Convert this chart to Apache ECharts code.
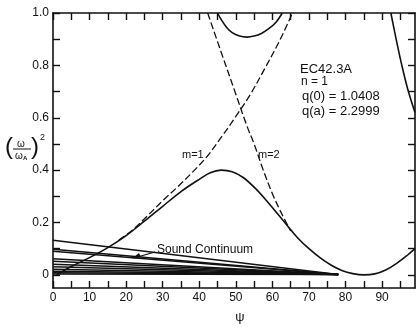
<!DOCTYPE html>
<html>
<head>
<meta charset="utf-8">
<script src="https://cdn.jsdelivr.net/npm/echarts@6/dist/echarts.min.js"></script>
<style>
  html, body { margin: 0; padding: 0; background: #fff; }
  #chart { width: 416px; height: 329px; }
</style>
</head>
<body>
<div id="chart"></div>
<script>
// axis ticks / labels
const xTickValues = [0, 5, 10, 15, 20, 25, 30, 35, 40, 45, 50, 55, 60, 65, 70, 75, 80, 85, 90, 95]
const xLabelValues = [0, 10, 20, 30, 40, 50, 60, 70, 80, 90]
const yTickValues = [0, 0.1, 0.2, 0.3, 0.4, 0.5, 0.6, 0.7, 0.8, 0.9, 1.0]
const yLabelValues = [0, 0.2, 0.4, 0.6, 0.8, 1.0]

// lower solid branch (peak near 46, touches zero near 85)
const lowerPsi = [1, 5, 10, 15, 20, 25, 30, 35, 40, 43, 46, 49, 52, 55, 58, 61, 64, 67, 70, 73, 76, 79, 82, 85, 88, 91, 94, 97, 99]
const lowerVal = [0.0, 0.032, 0.066, 0.104, 0.15, 0.205, 0.262, 0.318, 0.365, 0.39, 0.40, 0.394, 0.372, 0.335, 0.29, 0.24, 0.19, 0.14, 0.1, 0.066, 0.038, 0.017, 0.005, 0.0, 0.004, 0.019, 0.044, 0.076, 0.1]

// upper solid arc
const arcPsi = [45, 46, 47.5, 49, 51, 53, 55, 57, 59, 61, 62.7]
const arcVal = [1.0, 0.975, 0.945, 0.925, 0.912, 0.908, 0.912, 0.922, 0.94, 0.965, 1.0]

// right solid branch
const rightPsi = [92.4, 94, 95.4, 97, 99]
const rightVal = [1.0, 0.89, 0.80, 0.71, 0.62]

// m = 1 dashed
const m1Psi = [18, 22, 26, 30, 34, 38, 42, 46, 50, 54, 58, 62, 65.5]
const m1Val = [0.133, 0.174, 0.228, 0.283, 0.335, 0.39, 0.45, 0.525, 0.605, 0.69, 0.79, 0.895, 1.0]

// m = 2 dashed
const m2Psi = [42.3, 46, 50, 53, 55, 57.5, 60, 62.5, 65]
const m2Val = [1.0, 0.85, 0.69, 0.57, 0.50, 0.40, 0.31, 0.235, 0.168]

// sound continuum: straight lines from psi = 0 fanning into ~0
const continuumStart = [0.132, 0.098, 0.09, 0.062, 0.052, 0.041, 0.031, 0.022, 0.014, 0.008, 0.003]
const continuumEndPsi = 78
const continuumEndVal = 0.002

const ink = '#111'
const font = "'Liberation Sans', Arial, sans-serif"

function zip(xs, ys) {
  return xs.map((x, i) => [x, ys[i]])
}

const solid = { color: ink, width: 1.6 }
const dashed = { color: ink, width: 1.3, type: [7, 3] }

const series = []

continuumStart.forEach((v0, i) => {
  series.push({
    name: 'continuum' + i,
    type: 'line',
    data: [[0, v0], [continuumEndPsi, continuumEndVal]],
    symbol: 'none',
    lineStyle: { color: ink, width: 1.5 },
    z: 1,
  })
})

series.push(
  { name: 'lower', type: 'line', data: zip(lowerPsi, lowerVal), smooth: 0.35, symbol: 'none', lineStyle: solid, z: 3 },
  { name: 'arc', type: 'line', data: zip(arcPsi, arcVal), smooth: 0.35, symbol: 'none', lineStyle: solid, z: 3 },
  { name: 'right', type: 'line', data: zip(rightPsi, rightVal), smooth: 0.35, symbol: 'none', lineStyle: solid, z: 3 },
  { name: 'm=1', type: 'line', data: zip(m1Psi, m1Val), smooth: 0.35, symbol: 'none', lineStyle: dashed, z: 2 },
  { name: 'm=2', type: 'line', data: zip(m2Psi, m2Val), smooth: 0.35, symbol: 'none', lineStyle: dashed, z: 2 },
)

const axisLine = { onZero: false, lineStyle: { color: ink, width: 1.6 } }
const tickStyle = { inside: true, length: 7, lineStyle: { color: ink, width: 1.4 } }

const option = {
  backgroundColor: '#fff',
  animation: false,
  grid: { left: 53, right: 1, top: 13, bottom: 30.5 },
  xAxis: [
    {
      type: 'value',
      min: 0,
      max: 99,
      position: 'bottom',
      axisLine,
      axisTick: { ...tickStyle, customValues: xTickValues },
      axisLabel: {
        customValues: xLabelValues,
        color: ink,
        fontFamily: font,
        fontSize: 12,
        margin: 4,
      },
      splitLine: { show: false },
      name: 'ψ',
      nameLocation: 'middle',
      nameGap: 23,
      nameTextStyle: { color: ink, fontFamily: font, fontSize: 13, padding: [0, 0, 0, 12] },
    },
    {
      type: 'value',
      min: 0,
      max: 99,
      position: 'top',
      axisLine,
      axisTick: { ...tickStyle, customValues: xTickValues },
      axisLabel: { show: false },
      splitLine: { show: false },
    },
  ],
  yAxis: [
    {
      type: 'value',
      min: -0.05,
      max: 1.0,
      position: 'left',
      axisLine,
      axisTick: { ...tickStyle, customValues: yTickValues },
      axisLabel: {
        customValues: yLabelValues,
        formatter: (v) => (v === 0 ? '0' : v.toFixed(1)),
        color: ink,
        fontFamily: font,
        fontSize: 12,
        margin: 4,
      },
      splitLine: { show: false },
    },
    {
      type: 'value',
      min: -0.05,
      max: 1.0,
      position: 'right',
      axisLine,
      axisTick: { ...tickStyle, customValues: yTickValues },
      axisLabel: { show: false },
      splitLine: { show: false },
    },
  ],
  graphic: [
    // y axis name: (omega / omega_A)^2
    { type: 'text', left: 5, top: 135, style: { text: '(', font: '24px ' + font, fill: ink } },
    { type: 'text', left: 17, top: 139, style: { text: 'ω', font: '10px ' + font, fill: ink } },
    { type: 'line', shape: { x1: 13, y1: 149, x2: 31, y2: 149 }, style: { stroke: ink, lineWidth: 1 } },
    { type: 'text', left: 15, top: 151, style: { text: 'ω', font: '10px ' + font, fill: ink } },
    { type: 'text', left: 23, top: 155, style: { text: 'A', font: 'bold 6px ' + font, fill: ink } },
    { type: 'text', left: 31, top: 135, style: { text: ')', font: '24px ' + font, fill: ink } },
    { type: 'text', left: 40, top: 133, style: { text: '2', font: '9px ' + font, fill: ink } },
    // case annotation
    { type: 'text', left: 300, top: 63, style: { text: 'EC42.3A', font: '13px ' + font, fill: ink } },
    { type: 'text', left: 301, top: 76, style: { text: 'n = 1', font: '12px ' + font, fill: ink } },
    { type: 'text', left: 302, top: 90, style: { text: 'q(0) = 1.0408', font: '13px ' + font, fill: ink } },
    { type: 'text', left: 302, top: 105, style: { text: 'q(a) = 2.2999', font: '13px ' + font, fill: ink } },
    // mode labels
    { type: 'text', left: 182, top: 149, style: { text: 'm=1', font: '11px ' + font, fill: ink } },
    { type: 'text', left: 258, top: 149, style: { text: 'm=2', font: '11px ' + font, fill: ink } },
    // sound continuum label and arrow
    { type: 'text', left: 157, top: 244, style: { text: 'Sound Continuum', font: '12px ' + font, fill: ink } },
    { type: 'line', shape: { x1: 155, y1: 252, x2: 134, y2: 258 }, style: { stroke: ink, lineWidth: 1.2 } },
    { type: 'polygon', shape: { points: [[132, 258.5], [139, 253], [141, 257]] }, style: { fill: ink } },
  ],
  series,
}

const chart = echarts.init(document.getElementById('chart'))
chart.setOption(option)
</script>
</body>
</html>
